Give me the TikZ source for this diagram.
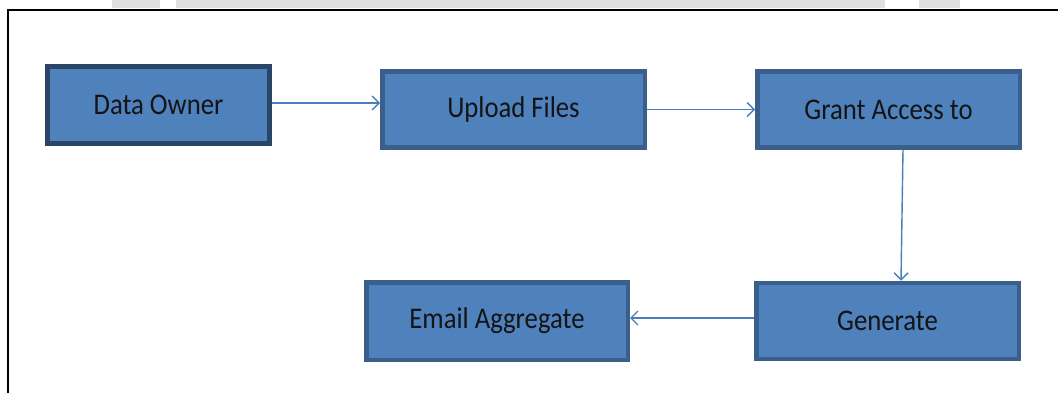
\documentclass[tikz,border=0pt]{standalone}
\usepackage{fontspec}
\setmainfont{Carlito}[FakeStretch=0.89]
\usetikzlibrary{arrows.meta}
\definecolor{boxfill}{HTML}{4F81BD}
\definecolor{boxedge}{HTML}{3A5F8B}
\definecolor{boxedgedark}{HTML}{2A4566}
\definecolor{arrowblue}{HTML}{4A7EBB}
\definecolor{txt}{HTML}{141414}
\definecolor{wm}{HTML}{E0E0E0}
\tikzset{
  stepbox/.style={draw=boxedge, fill=boxfill, line width=4.5pt, rectangle,
    minimum width=262.5pt, minimum height=76pt, inner sep=0pt,
    font=\fontsize{30}{33}\selectfont, text=txt},
  flow/.style={draw=arrowblue, line width=1.4pt,
    -{Straight Barb[length=7pt,width=14pt,line width=1.4pt]}}
}
\begin{document}
\begin{tikzpicture}[x=1pt,y=-1pt]
\useasboundingbox (0,0) rectangle (1058,393);
% faint watermark band at the top
\fill[wm] (112,0) rectangle (160,8);
\fill[wm] (176,0) rectangle (885,8);
\fill[wm] (919,0) rectangle (960,8);
% frame
\draw[line width=2.5pt, line cap=rect] (8,393) -- (8,10) -- (1058,10);
% boxes
\node[stepbox, draw=boxedgedark, line width=5pt, minimum width=222pt, minimum height=77pt] (do) at (158.5,105) {Data Owner};
\node[stepbox] (up) at (513.5,109.5) {Upload Files};
\node[stepbox] (ga) at (888.5,109.5) {Grant Access to};
\node[stepbox] (gen) at (887.5,321) {Generate};
\node[stepbox, minimum width=261.5pt, minimum height=77.5pt] (em) at (497,321) {Email Aggregate};
% connectors
\draw[flow] ([yshift=2pt]do.east) -- ([yshift=2pt]do.east -| up.west);
\draw[flow] (up.east) -- (up.east -| ga.west);
\draw[flow] ([xshift=14.5pt]ga.south) -- ([xshift=13.5pt]gen.north);
\draw[flow] ([yshift=3pt]gen.west) -- ([yshift=3pt]gen.west -| em.east);
\end{tikzpicture}
\end{document}
